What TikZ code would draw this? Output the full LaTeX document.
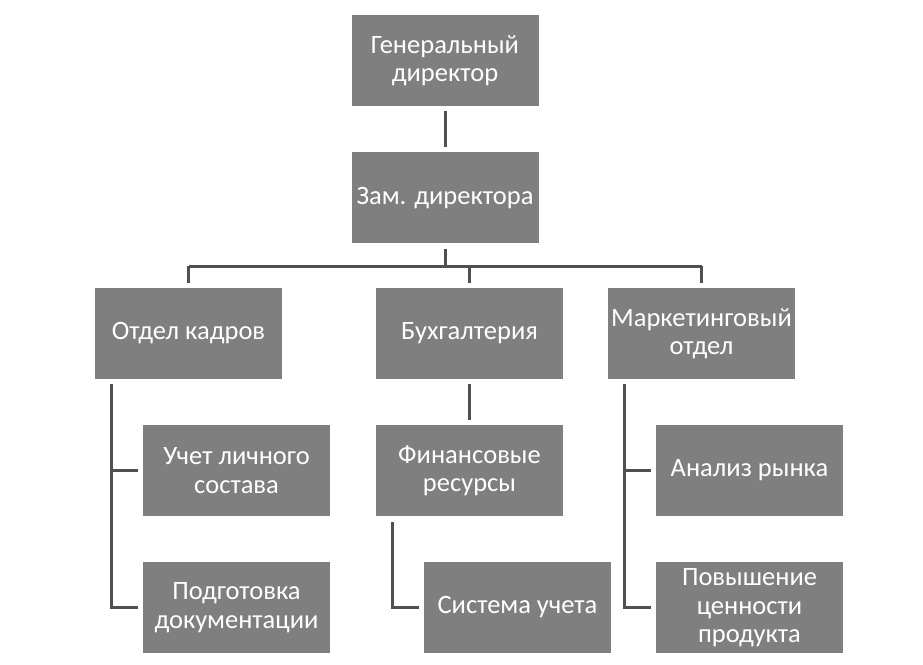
\documentclass[tikz,border=0pt]{standalone}
\usepackage{fontspec}
\setmainfont{Carlito}
\usetikzlibrary{positioning,calc}

\definecolor{boxgray}{HTML}{7F7F7F}
\definecolor{linegray}{HTML}{505050}

\begin{document}
\begin{tikzpicture}[
    x=1pt, y=-1pt,
    unit/.style={rectangle, fill=boxgray, minimum width=187pt, minimum height=91pt, text width=187pt, inner sep=0pt, align=flush center, text=white, font=\fontsize{26.5}{28.5}\selectfont},
    link/.style={draw=linegray, line width=3pt},
    gap/.style={shorten <=5pt, shorten >=5pt}
]
\useasboundingbox (0,0) rectangle (923,664);

% top of the chart
\node[unit] (gen) at (445,60.5) {Генеральный\\директор};
\node[unit, below=46pt of gen] (zam) {Зам. директора};

% departments
\node[unit] (kadr) at (188.5,333.5) {Отдел кадров};
\node[unit] (buh) at (469.5,333.5) {Бухгалтерия};
\node[unit] (mark) at (701.5,333.5) {Маркетинговый\\отдел};

% sub-units
\node[unit] (uchet) at (236.5,470.5) {Учет личного\\состава};
\node[unit, below=46pt of uchet] (podg) {Подготовка\\документации};
\node[unit, below=46pt of buh] (fin) {Финансовые\\ресурсы};
\node[unit] (sist) at (517.5,607) {Система учета};
\node[unit] (anal) at (749.5,470.5) {Анализ рынка};
\node[unit, below=46pt of anal] (povysh) {Повышение\\ценности\\продукта};

\coordinate (bus) at (445,266);

\draw[link, gap] (gen) -- (zam);
\draw[link, shorten <=5pt] (zam.south) -- (zam.south |- bus);
\draw[link] (kadr.north |- bus) -- (mark.north |- bus);
\draw[link, shorten >=5pt] (kadr.north |- bus) -- (kadr.north);
\draw[link, shorten >=5pt] (buh.north |- bus) -- (buh.north);
\draw[link, shorten >=5pt] (mark.north |- bus) -- (mark.north);

\draw[link, gap] ([xshift=17pt]kadr.south west) |- (uchet.west);
\draw[link, gap] ([xshift=17pt]kadr.south west) |- (podg.west);
\draw[link, gap] (buh) -- (fin);
\draw[link, gap] ([xshift=17pt]fin.south west) |- (sist.west);
\draw[link, gap] ([xshift=17pt]mark.south west) |- (anal.west);
\draw[link, gap] ([xshift=17pt]mark.south west) |- (povysh.west);
\end{tikzpicture}
\end{document}
